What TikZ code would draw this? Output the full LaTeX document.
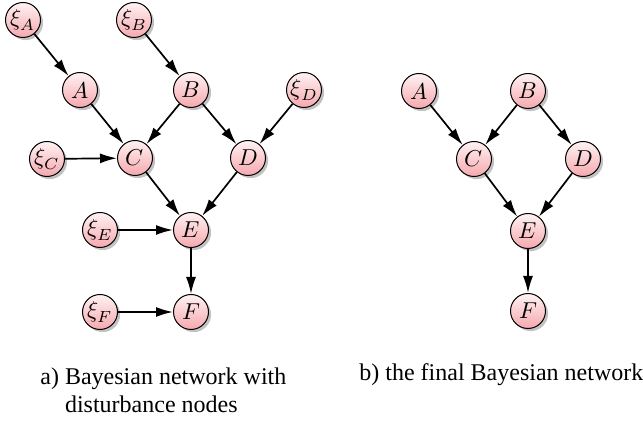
\documentclass[tikz,border=0pt]{standalone}
\usepackage{fontspec}
\setmainfont{Liberation Serif}
\usepackage{unicode-math}
\setmathfont{Latin Modern Math}
\usetikzlibrary{arrows.meta,shadows}
\tikzset{
  bn/.style={circle, draw=black, line width=0.5pt, minimum size=17.5pt, inner sep=0pt,
    bottom color={rgb,255:red,245;green,168;blue,174}, top color={rgb,255:red,255;green,242;blue,242},
    drop shadow={shadow xshift=1.3pt, shadow yshift=-1.3pt, opacity=0.4, fill=black!60},
    font=\fontsize{11.5}{13}\selectfont},
  edge/.style={-{Latex[length=8.5pt,width=5pt]}, line width=0.85pt, black},
  captext/.style={anchor=base west, inner sep=0pt, font=\fontsize{12}{14}\selectfont}
}
\begin{document}
\begin{tikzpicture}[x=0.5pt,y=-0.5pt]
\useasboundingbox (0,0) rectangle (643,426);
% left graph
\node[bn] (xA) at (23,20) {$\xi_A$};
\node[bn] (xB) at (134,20) {$\xi_B$};
\node[bn] (A) at (80,90) {$A$};
\node[bn] (B) at (191,90) {$B$};
\node[bn] (xD) at (304,90) {$\xi_D$};
\node[bn] (xC) at (47,159) {$\xi_C$};
\node[bn] (C) at (135,158) {$C$};
\node[bn] (D) at (248,158) {$D$};
\node[bn] (xE) at (100,230) {$\xi_E$};
\node[bn] (E) at (191,230) {$E$};
\node[bn] (xF) at (100,312) {$\xi_F$};
\node[bn] (F) at (191,312) {$F$};
\draw[edge] (xA) -- (A);
\draw[edge] (xB) -- (B);
\draw[edge] (A) -- (C);
\draw[edge] (B) -- (C);
\draw[edge] (B) -- (D);
\draw[edge] (xD) -- (D);
\draw[edge] (xC) -- (C);
\draw[edge] (C) -- (E);
\draw[edge] (D) -- (E);
\draw[edge] (xE) -- (E);
\draw[edge] (E) -- (F);
\draw[edge] (xF) -- (F);
% right graph
\node[bn] (rA) at (419,91) {$A$};
\node[bn] (rB) at (528,91) {$B$};
\node[bn] (rC) at (474,159) {$C$};
\node[bn] (rD) at (583,159) {$D$};
\node[bn] (rE) at (528,231) {$E$};
\node[bn] (rF) at (528,311) {$F$};
\draw[edge] (rA) -- (rC);
\draw[edge] (rB) -- (rC);
\draw[edge] (rB) -- (rD);
\draw[edge] (rC) -- (rE);
\draw[edge] (rD) -- (rE);
\draw[edge] (rE) -- (rF);
% captions
\node[captext] (capa) at (40,385) {\begin{tabular}[t]{@{}l@{\ }l@{}}a) & Bayesian network with\\ & disturbance nodes\end{tabular}};
\node[captext] (capb) at (359,381) {b) the final Bayesian network};
\end{tikzpicture}
\end{document}
